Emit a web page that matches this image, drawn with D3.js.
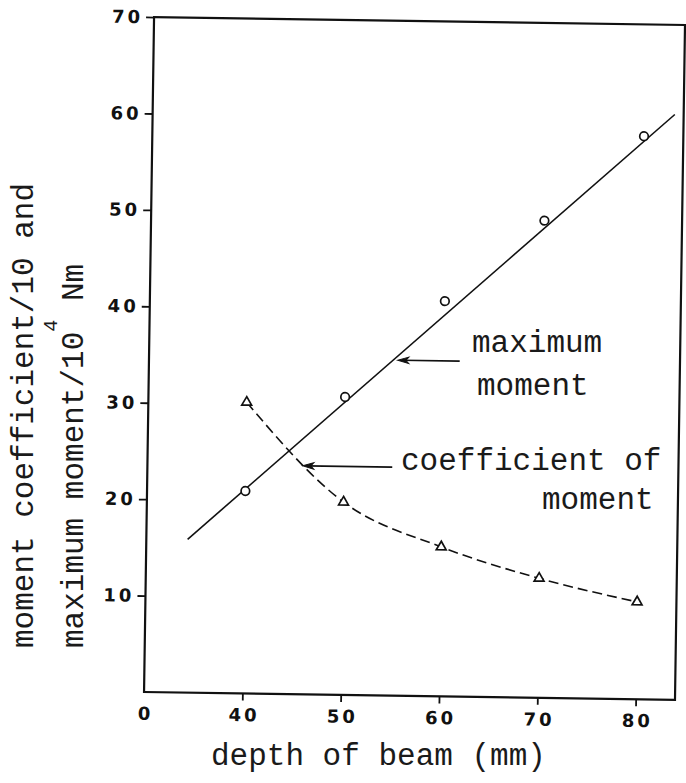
<!DOCTYPE html>
<html>
<head>
<meta charset="utf-8">
<script src="https://cdn.jsdelivr.net/npm/d3@7"></script>
<style>
  html, body { margin: 0; padding: 0; background: #fff; }
  svg { display: block; }
  .mono { font-family: "Liberation Mono", "Courier New", monospace; fill: #1a1a1a; }
  .tick text { font-family: "DejaVu Sans", sans-serif; font-size: 18px; font-weight: bold; letter-spacing: 3px; fill: #111; }
</style>
</head>
<body>
<svg id="chart" width="686" height="783"></svg>
<script>
// Beam depth (mm) at which each specimen was measured
const depth = [40, 50, 60, 70, 80];
// Maximum moment / 10^4 Nm
const maxMoment = [21.0, 30.9, 41.0, 49.5, 58.4];
// Moment coefficient / 10
const momentCoef = [30.2, 20.0, 15.5, 12.4, 10.1];
// End points of the straight line fitted to the maximum moment
const fitDepth = [34.2, 83.1];
const fitMoment = [15.9, 60.7];
// Axis ticks (the origin of the broken depth axis is labelled 0)
const xTicks = [30, 40, 50, 60, 70, 80];
const xTickLabels = ["0", "40", "50", "60", "70", "80"];
const yTicks = [10, 20, 30, 40, 50, 60, 70];

const ink = "#111";
const svg = d3.select("#chart");

const x = d3.scaleLinear().domain([30, 84]).range([149, 680]);
const y = d3.scaleLinear().domain([0, 70]).range([696, 21]);

// the plotted sheet sits very slightly askew on the page
const plot = svg.append("g").attr("transform", "rotate(0.85, 415, 360)");

// frame
plot.append("rect")
  .attr("x", x.range()[0]).attr("y", y.range()[1])
  .attr("width", x.range()[1] - x.range()[0])
  .attr("height", y.range()[0] - y.range()[1])
  .attr("fill", "none").attr("stroke", ink).attr("stroke-width", 2.2);

function styleTicks(g) {
  g.attr("font-size", null).attr("font-family", null);
  g.select(".domain").remove();
  g.selectAll(".tick line").attr("stroke", ink).attr("stroke-width", 1.8);
}

// axes
const xAxis = plot.append("g")
  .attr("transform", `translate(0,${y.range()[0]})`)
  .call(d3.axisBottom(x).tickValues(xTicks).tickSize(7).tickPadding(8)
    .tickFormat((d, i) => xTickLabels[i]))
  .call(styleTicks);
xAxis.selectAll(".tick line").filter(d => d === xTicks[0]).remove();
xAxis.selectAll(".tick text").attr("dx", 1.5);

const yAxis = plot.append("g")
  .attr("transform", `translate(${x.range()[0]},0)`)
  .call(d3.axisLeft(y).tickValues(yTicks).tickSize(8).tickPadding(3))
  .call(styleTicks);

// fitted line for maximum moment
plot.append("path")
  .datum(fitDepth.map((d, i) => [d, fitMoment[i]]))
  .attr("d", d3.line().x(d => x(d[0])).y(d => y(d[1])))
  .attr("fill", "none").attr("stroke", ink).attr("stroke-width", 1.6);

// dashed curve through the moment coefficient
plot.append("path")
  .datum(depth.map((d, i) => [d, momentCoef[i]]))
  .attr("d", d3.line().x(d => x(d[0])).y(d => y(d[1])).curve(d3.curveMonotoneX))
  .attr("fill", "none").attr("stroke", ink).attr("stroke-width", 1.6)
  .attr("stroke-dasharray", "10,5");

// measured maximum moment (open circles)
plot.selectAll("circle.mm")
  .data(depth.map((d, i) => [d, maxMoment[i]]))
  .join("circle").attr("class", "mm")
  .attr("cx", d => x(d[0])).attr("cy", d => y(d[1])).attr("r", 4.3)
  .attr("fill", "#fff").attr("stroke", ink).attr("stroke-width", 1.7);

// moment coefficient (open triangles)
plot.selectAll("path.mc")
  .data(depth.map((d, i) => [d, momentCoef[i]]))
  .join("path").attr("class", "mc")
  .attr("d", d3.symbol(d3.symbolTriangle, 42))
  .attr("transform", d => `translate(${x(d[0])},${y(d[1])})`)
  .attr("fill", "#fff").attr("stroke", ink).attr("stroke-width", 1.7);

// pointer arrows to the two curves
function arrow(tipX, tipY, tailX) {
  const tx = x(tipX), ty = y(tipY), ex = x(tailX);
  plot.append("line").attr("x1", tx + 4).attr("y1", ty).attr("x2", ex).attr("y2", ty)
    .attr("stroke", ink).attr("stroke-width", 1.6);
  plot.append("path")
    .attr("d", `M${tx},${ty} L${tx + 11},${ty - 3.2} L${tx + 8},${ty} L${tx + 11},${ty + 3.2} Z`)
    .attr("fill", ink).attr("stroke", ink).attr("stroke-width", 1);
}
arrow(55.3, 34.8, 61.6);
arrow(45.8, 23.7, 54.9);

// curve labels
const annot = svg.append("g").attr("class", "mono").style("font-size", "31px");
annot.append("text").attr("x", 472).attr("y", 352).text("maximum");
annot.append("text").attr("x", 477).attr("y", 395).text("moment");
annot.append("text").attr("x", 401).attr("y", 470).text("coefficient of");
annot.append("text").attr("x", 542).attr("y", 509).text("moment");

// axis titles
svg.append("text").attr("class", "mono").style("font-size", "31px")
  .attr("x", 211).attr("y", 765).text("depth of beam (mm)");

svg.append("text").attr("class", "mono").style("font-size", "31px")
  .attr("transform", "translate(33,648) rotate(-90)")
  .text("moment coefficient/10 and");

const yt2 = svg.append("text").attr("class", "mono").style("font-size", "31px")
  .attr("transform", "translate(83,648) rotate(-90)");
yt2.append("tspan").text("maximum moment/10");
yt2.append("tspan").attr("dy", -26).style("font-size", "20px").text("4");
yt2.append("tspan").attr("dy", 26).text("  Nm");
</script>
</body>
</html>
